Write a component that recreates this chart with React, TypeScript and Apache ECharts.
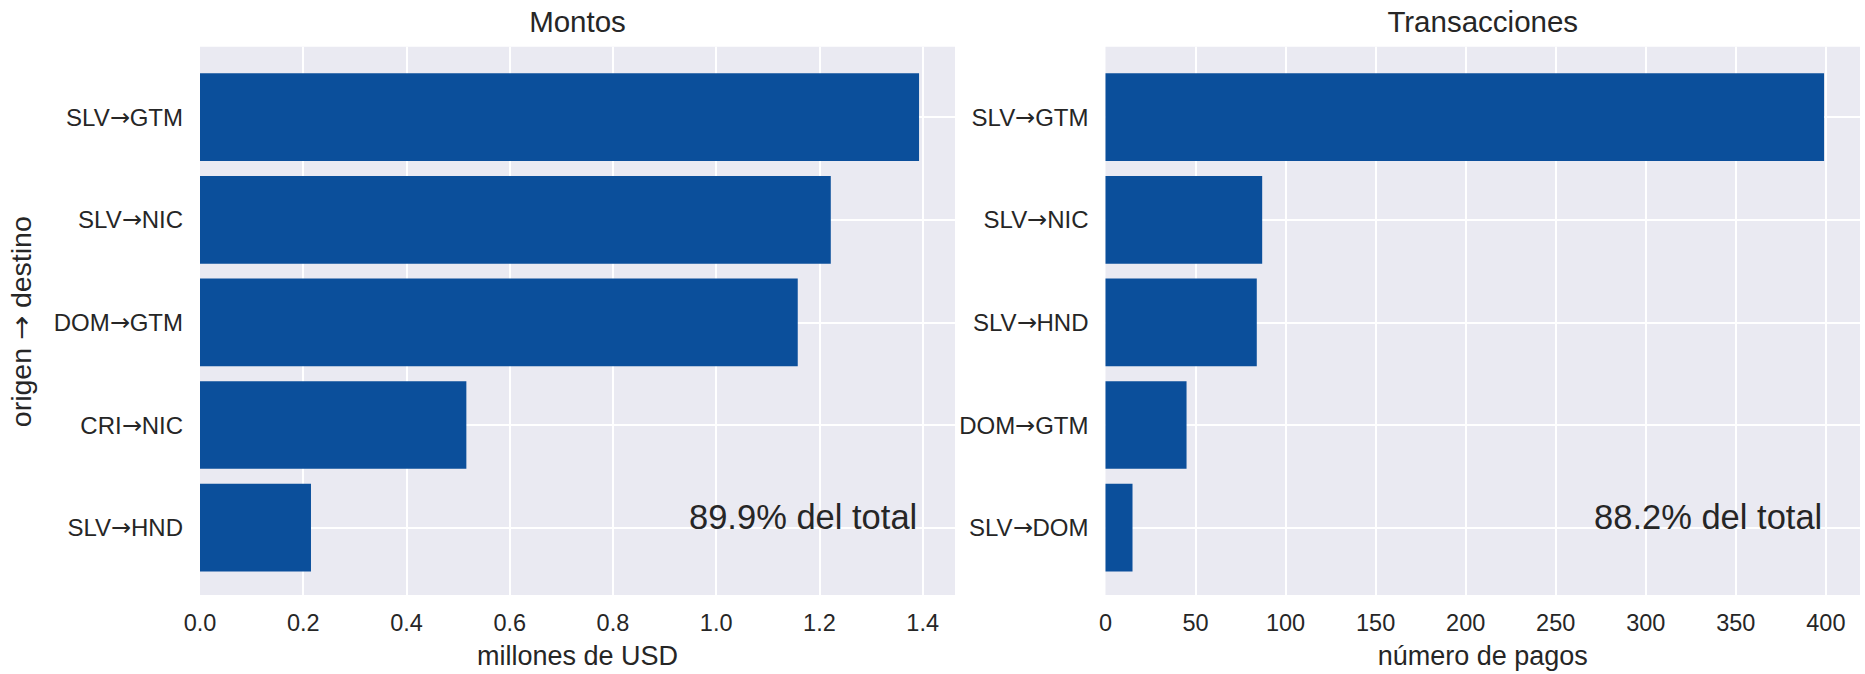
import React, { useEffect, useRef } from 'react';
import * as echarts from 'echarts';

// ---- data ----
const montosCategories = ['SLV→GTM', 'SLV→NIC', 'DOM→GTM', 'CRI→NIC', 'SLV→HND'];
const montosValues = [1.393, 1.222, 1.158, 0.516, 0.215];
const transCategories = ['SLV→GTM', 'SLV→NIC', 'SLV→HND', 'DOM→GTM', 'SLV→DOM'];
const transValues = [399, 87, 84, 45, 15];
const panelTitles = ['Montos', 'Transacciones'];
const axisNames = ['millones de USD', 'número de pagos'];
const shareLabels = ['89.9% del total', '88.2% del total'];
const yAxisName = 'origen → destino';

const FONT = "ArrowDV, 'Liberation Sans', Arial, Helvetica, sans-serif";
const TEXT = '#262626';
const BG = '#EAEAF2';
const BAR = '#0B4F9B';

const W = 1865;
const H = 674;
const PLOT_TOP = 46.7;
const PLOT_H = 550;
const CENTER_TOP = 117.2;
const CENTER_H = 410.4;
const BAND_TOP = 65.9;
const BAND_H = 513;

const fontCss = `@font-face { font-family: 'ArrowDV'; src: local('DejaVu Sans'), local('DejaVuSans'); unicode-range: U+2190-21FF; }
body { margin: 0; }`;

export default function App() {
  const ref = useRef<HTMLDivElement>(null);

  useEffect(() => {
    document.body.style.margin = '0';
    const chart = echarts.init(ref.current!, null, { renderer: 'svg' });

    const panels = [
      {
        left: 200, right: W - 955, cats: montosCategories, vals: montosValues,
        max: Math.max(...montosValues) * 1.05, interval: 0.2,
        fmt: (v: number) => v.toFixed(1),
      },
      {
        left: 1105.5, right: W - 1860, cats: transCategories, vals: transValues,
        max: Math.max(...transValues) * 1.05, interval: 50,
        fmt: (v: number) => String(Math.round(v)),
      },
    ];

    const grid: any[] = [];
    const xAxis: any[] = [];
    const yAxis: any[] = [];
    const series: any[] = [];
    const graphic: any[] = [];

    panels.forEach((p, i) => {
      const base = i * 3;
      grid.push({ left: p.left, right: p.right, top: PLOT_TOP, height: PLOT_H, show: true, backgroundColor: BG, borderWidth: 0 });
      grid.push({ left: p.left, right: p.right, top: CENTER_TOP, height: CENTER_H, show: false });
      grid.push({ left: p.left, right: p.right, top: BAND_TOP, height: BAND_H, show: false });

      xAxis.push({
        gridIndex: base, type: 'value', min: 0, max: p.max, interval: p.interval,
        axisLine: { show: false }, axisTick: { show: false },
        splitLine: { show: true, showMinLine: false, showMaxLine: false, lineStyle: { color: '#ffffff', width: 2 } },
        axisLabel: { show: true, showMaxLabel: false, color: TEXT, fontSize: 23.5, fontFamily: FONT, margin: 16, formatter: p.fmt },
        name: axisNames[i], nameLocation: 'middle', nameGap: 47,
        nameTextStyle: { color: TEXT, fontSize: 27, fontFamily: FONT },
      });
      yAxis.push({ gridIndex: base, type: 'value', min: 0, max: 1, show: false });

      xAxis.push({ gridIndex: base + 1, type: 'value', min: 0, max: p.max, show: false });
      yAxis.push({
        gridIndex: base + 1, type: 'category', data: p.cats, boundaryGap: false, inverse: true,
        axisLine: { show: false }, axisTick: { show: false },
        splitLine: { show: true, interval: 0, lineStyle: { color: '#ffffff', width: 2 } },
        axisLabel: { interval: 0, color: TEXT, fontSize: 24, fontFamily: FONT, margin: 17 },
      });

      xAxis.push({ gridIndex: base + 2, type: 'value', min: 0, max: p.max, show: false });
      yAxis.push({ gridIndex: base + 2, type: 'category', data: p.cats, inverse: true, show: false });

      series.push({
        type: 'bar', xAxisIndex: base + 2, yAxisIndex: base + 2, data: p.vals,
        barWidth: '85.5%', itemStyle: { color: BAR }, silent: true,
      });

      const plotLeft = p.left;
      const plotRight = W - p.right;
      graphic.push({
        type: 'text', x: (plotLeft + plotRight) / 2, y: 21.7,
        style: { text: panelTitles[i], fill: TEXT, font: `29.5px ${FONT}`, align: 'center', verticalAlign: 'middle' },
      });
      graphic.push({
        type: 'text', x: plotLeft + 0.95 * (plotRight - plotLeft), y: 516.8,
        style: { text: shareLabels[i], fill: TEXT, font: `34.5px ${FONT}`, align: 'right', verticalAlign: 'middle' },
        z: 10,
      });
    });

    graphic.push({
      type: 'text', x: 21, y: PLOT_TOP + PLOT_H / 2, rotation: Math.PI / 2,
      style: { text: yAxisName, fill: TEXT, font: `28.5px ${FONT}`, align: 'center', verticalAlign: 'middle' },
    });

    chart.setOption({
      animation: false,
      backgroundColor: '#ffffff',
      textStyle: { fontFamily: FONT },
      grid, xAxis, yAxis, series, graphic,
    });

    return () => chart.dispose();
  }, []);

  return (
    <>
      <style>{fontCss}</style>
      <div ref={ref} style={{ width: W, height: H }} />
    </>
  );
}
